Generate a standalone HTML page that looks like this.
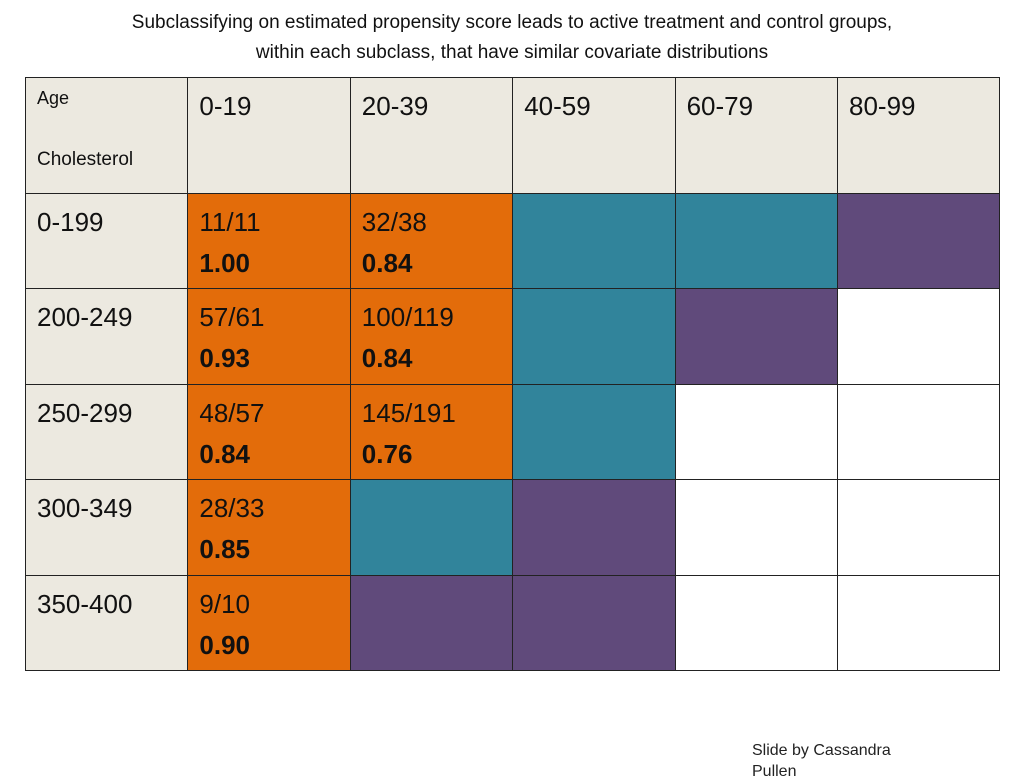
<!DOCTYPE html>
<html><head><meta charset="utf-8"><style>
body{margin:0;width:1024px;height:768px;background:#fff;position:relative;overflow:hidden;font-family:"Liberation Sans",sans-serif;}
.t{position:absolute;left:0;width:1024px;text-align:center;font-size:19px;color:#111;}
.c{position:absolute;box-sizing:border-box;border:1px solid #222;color:#111;}
.v{position:absolute;left:11px;top:8px;font-size:26px;line-height:41px;}
.v b{font-weight:bold;}
</style></head><body>
<div class="t" style="top:12px">Subclassifying on estimated propensity score leads to active treatment and control groups,</div>
<div class="t" style="top:42px">within each subclass, that have similar covariate distributions</div>
<div id="grid"></div>
<div style="position:absolute;left:752px;top:742px;font-size:16px;color:#222;">Slide by Cassandra</div>
<div style="position:absolute;left:752px;top:763px;font-size:16px;color:#222;">Pullen</div>
<script>
const ageBins=["0-19","20-39","40-59","60-79","80-99"];
const cholBins=["0-199","200-249","250-299","300-349","350-400"];
// counts "treated/total" per cell, null = no annotation
const counts=[["11/11","32/38",null,null,null],["57/61","100/119",null,null,null],["48/57","145/191",null,null,null],["28/33",null,null,null,null],["9/10",null,null,null,null]];
const ratios=[["1.00","0.84",null,null,null],["0.93","0.84",null,null,null],["0.84","0.76",null,null,null],["0.85",null,null,null,null],["0.90",null,null,null,null]];
// category: o=orange, t=teal, p=purple, w=white
const cats=[["o","o","t","t","p"],["o","o","t","p","w"],["o","o","t","w","w"],["o","t","p","w","w"],["o","p","p","w","w"]];
const colors={o:"#e36c0a",t:"#31849b",p:"#604a7b",w:"#ffffff"};
const X0=25,CW=162.4,Y0=77,HH=116,RH=95.4;
const g=document.getElementById('grid');
function cell(x,y,w,h,bg,html,name){const d=document.createElement('div');d.className='c';
d.style.cssText=`left:${x}px;top:${y}px;width:${w+1}px;height:${h+1}px;background:${bg}`;
d.innerHTML=html;


g.appendChild(d);}
cell(X0,Y0,CW,HH,"#ece9e0",'<div style="position:absolute;left:11px;top:10px;font-size:18px">Age</div><div style="position:absolute;left:11px;top:71px;font-size:19px">Cholesterol</div>','corner-header');
ageBins.forEach((a,i)=>cell(X0+CW*(i+1),Y0,CW,HH,"#ece9e0",`<div class="v">${a}</div>`,'age-header-'+a));
cholBins.forEach((c,r)=>{
 cell(X0,Y0+HH+RH*r,CW,RH,"#ece9e0",`<div class="v">${c}</div>`,'chol-header-'+c);
 ageBins.forEach((a,i)=>{
  const txt=counts[r][i]?`<div class="v">${counts[r][i]}<br><b>${ratios[r][i]}</b></div>`:'';
  cell(X0+CW*(i+1),Y0+HH+RH*r,CW,RH,colors[cats[r][i]],txt,'cell-'+c+'-'+a);
 });
});
</script>
</body></html>
